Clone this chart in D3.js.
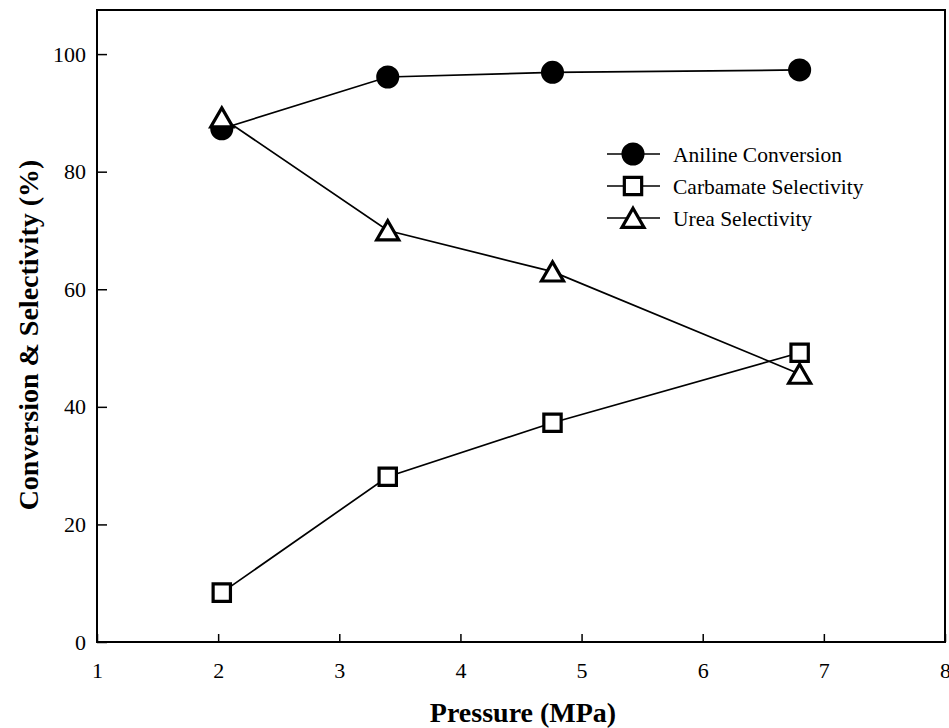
<!DOCTYPE html>
<html>
<head>
<meta charset="utf-8">
<script src="https://cdn.jsdelivr.net/npm/d3@7"></script>
<style>
  body { margin: 0; background: #fff; }
  text { font-family: "Liberation Serif", "Times New Roman", serif; fill: #000; }
</style>
</head>
<body>
<div id="chart"></div>
<script>
(function() {

    // data
    var pressure = [2.03, 3.40, 4.76, 6.80];
    var anilineConversion = [87.3, 96.1, 96.9, 97.3];
    var carbamateSelectivity = [8.4, 28.1, 37.3, 49.2];
    var ureaSelectivity = [89.2, 70.0, 63.0, 45.6];
    var xTicks = [1, 2, 3, 4, 5, 6, 7, 8];
    var yTicks = [0, 20, 40, 60, 80, 100];

    var series = [
        { name: "Aniline Conversion", values: anilineConversion, symbol: d3.symbolCircle, size: 310, fill: "#000" },
        { name: "Carbamate Selectivity", values: carbamateSelectivity, symbol: d3.symbolSquare, size: 300, fill: "#fff" },
        { name: "Urea Selectivity", values: ureaSelectivity, symbol: d3.symbolTriangle, size: 210, fill: "#fff" }
    ];

    // set the dimensions and margins of the graph
    var margin = {top: 10, right: 4, bottom: 86, left: 97},
      width = 949 - margin.left - margin.right,
      height = 728 - margin.top - margin.bottom;

    // set the ranges
    var x = d3.scaleLinear().domain([1, 8]).range([0, width]);
    var y = d3.scaleLinear().domain([0, 107.5]).range([height, 0]);

    var svg = d3.select("#chart").append("svg")
        .attr("width", 949)
        .attr("height", 728)
      .append("g")
        .attr("transform", "translate(" + margin.left + "," + margin.top + ")");

    // frame
    svg.append("rect")
        .attr("width", width)
        .attr("height", height)
        .attr("fill", "none")
        .attr("stroke", "#000")
        .attr("stroke-width", 2);

    // x axis, ticks pointing inside
    var xAxis = svg.append("g")
        .attr("transform", "translate(0," + height + ")")
        .call(d3.axisBottom(x).tickValues(xTicks).tickSize(-8).tickPadding(20).tickFormat(d3.format("d")));
    xAxis.select(".domain").remove();
    xAxis.selectAll("line").attr("stroke-width", 1.5);
    xAxis.selectAll("text").style("font-size", "22px").attr("font-family", "Liberation Serif");

    // y axis, ticks pointing inside
    var yAxis = svg.append("g")
        .call(d3.axisLeft(y).tickValues(yTicks).tickSize(-10).tickPadding(11).tickFormat(d3.format("d")));
    yAxis.select(".domain").remove();
    yAxis.selectAll("line").attr("stroke-width", 1.5);
    yAxis.selectAll("text").style("font-size", "22px").attr("font-family", "Liberation Serif");

    // lines and markers
    var line = d3.line()
        .x(function(d) { return x(d[0]); })
        .y(function(d) { return y(d[1]); });

    series.forEach(function(s) {
        var pts = pressure.map(function(p, i) { return [p, s.values[i]]; });
        svg.append("path")
            .datum(pts)
            .attr("fill", "none")
            .attr("stroke", "#000")
            .attr("stroke-width", 1.7)
            .attr("d", line);
    });

    series.forEach(function(s) {
        var pts = pressure.map(function(p, i) { return [p, s.values[i]]; });
        var dy = s.symbol === d3.symbolTriangle ? 3 : 0;
        svg.selectAll(null)
            .data(pts)
            .enter().append("path")
            .attr("d", d3.symbol().type(s.symbol).size(s.size))
            .attr("transform", function(d) { return "translate(" + x(d[0]) + "," + (y(d[1]) + dy) + ")"; })
            .attr("fill", s.fill)
            .attr("stroke", "#000")
            .attr("stroke-width", 3.2);
    });

    // legend
    var legend = svg.append("g")
        .attr("transform", "translate(" + (607 - margin.left) + "," + (154 - margin.top) + ")");
    series.forEach(function(s, i) {
        var g = legend.append("g").attr("transform", "translate(0," + (i * 32) + ")");
        g.append("line")
            .attr("x1", 0).attr("x2", 53)
            .attr("stroke", "#000").attr("stroke-width", 1.7);
        g.append("path")
            .attr("d", d3.symbol().type(s.symbol).size(s.size))
            .attr("transform", "translate(26," + (s.symbol === d3.symbolTriangle ? 3 : 0) + ")")
            .attr("fill", s.fill)
            .attr("stroke", "#000")
            .attr("stroke-width", 3.2);
        g.append("text")
            .attr("x", 66)
            .attr("dy", "0.35em")
            .style("font-size", "21.5px")
            .text(s.name);
    });

    // axis titles
    svg.append("text")
        .attr("x", width / 2 + 2)
        .attr("y", height + 80)
        .attr("text-anchor", "middle")
        .style("font-size", "28px")
        .style("font-weight", "bold")
        .text("Pressure (MPa)");

    svg.append("text")
        .attr("transform", "translate(" + (38 - margin.left) + "," + (335 - margin.top) + ") rotate(-90)")
        .attr("text-anchor", "middle")
        .style("font-size", "28px")
        .style("font-weight", "bold")
        .text("Conversion & Selectivity (%)");

})();
</script>
</body>
</html>
